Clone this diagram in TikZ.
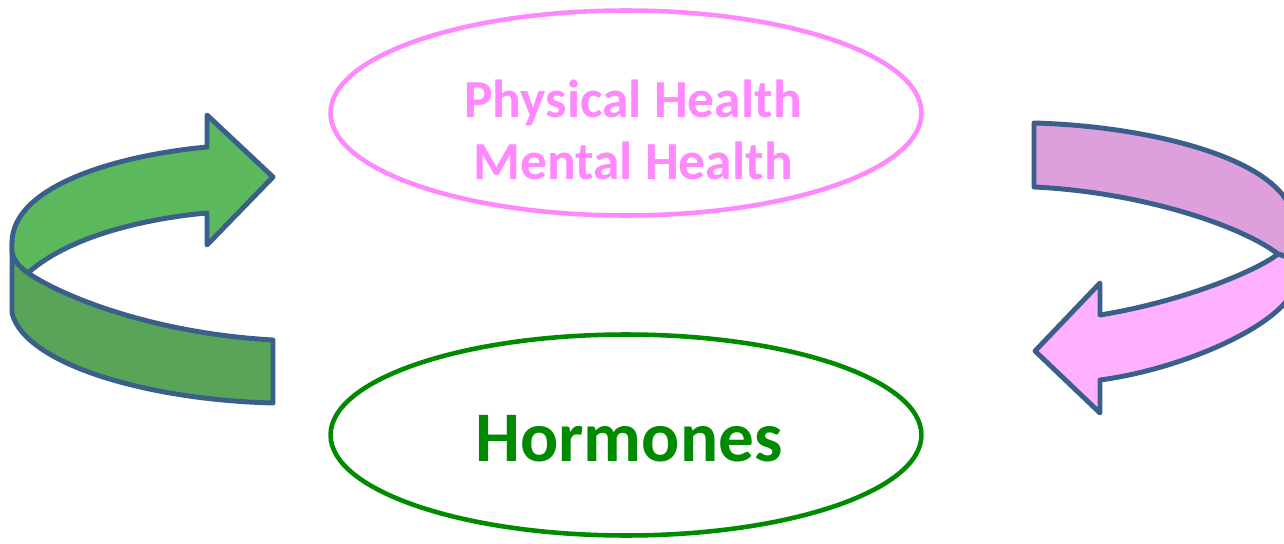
\documentclass[tikz,border=0pt]{standalone}
\usepackage{fontspec}
\setmainfont{Carlito}
\usetikzlibrary{shapes.geometric}

\definecolor{healthpink}{RGB}{255,136,255}
\definecolor{hormgreen}{RGB}{0,138,0}
\definecolor{ribbonline}{RGB}{58,95,139}
\definecolor{greenfront}{RGB}{92,184,92}
\definecolor{greenback}{RGB}{90,164,90}
\definecolor{pinkback}{RGB}{221,160,221}
\definecolor{pinkfront}{RGB}{255,176,255}

\begin{document}
\begin{tikzpicture}[
    x=0.02cm, y=-0.02cm,
    ribbon/.style     = {draw=ribbonline, line width=2.8pt, line join=round, line cap=round},
    blob/.style       = {ellipse, line width=2.6pt, inner sep=0pt,
                         minimum width=11.82cm},
    health-blob/.style = {blob, draw=healthpink, minimum height=4.1cm},
    horm-blob/.style  = {blob, draw=hormgreen, minimum height=4.02cm},
    health-lbl/.style = {font=\fontsize{30.5}{35}\selectfont\bfseries,
                         text=healthpink, align=center},
    horm-lbl/.style   = {font=\fontsize{40.5}{42}\selectfont\bfseries,
                         text=hormgreen}
  ]

\useasboundingbox (0,0) rectangle (1284,544);

% =========================================================
% The two ellipses
% =========================================================
\node[health-blob] (health) at (626,113) {};
\node[health-lbl] (healthtxt) at (633,130) {Physical Health\\Mental Health};

\node[horm-blob] (hormones) at (626,435) {};
\node[horm-lbl] (hormtxt) at (629,439) {Hormones};

% =========================================================
% Left ribbon arrow (green, turning upwards)
% =========================================================
% back face (lower band)
\fill[greenback]
  (12,250) -- (12,313) .. controls (25,365) and (150,400) .. (273,403)
  -- (273,340) .. controls (150,333) and (60,295) .. (28,273)
  .. controls (18,266) and (12,258) .. cycle;
\draw[ribbon]
  (12,243) -- (12,313) .. controls (25,365) and (150,400) .. (273,403)
  -- (273,340) .. controls (150,333) and (60,295) .. (28,273);
% front face (upper band with head)
\draw[ribbon, fill=greenfront]
  (207,147) .. controls (120,155) and (12,185) .. (12,243)
  -- (12,250) .. controls (12,258) and (18,266) .. (28,273)
  .. controls (70,235) and (150,218) .. (207,213)
  -- (207,245) -- (273,177) -- (207,115) -- cycle;

% =========================================================
% Right ribbon arrow (pink, turning downwards, cut by the edge)
% =========================================================
\begin{scope}
  \clip (0,0) rectangle (1284,544);
  % back face (upper band)
  \draw[ribbon, fill=pinkback]
    (1034,123) .. controls (1150,126) and (1294,160) .. (1294,225)
    -- (1294,262) .. controls (1290,258) .. (1278,254)
    .. controls (1240,225) and (1140,192) .. (1034,187) -- cycle;
  % front face (lower band with head)
  \draw[ribbon, fill=pinkfront]
    (1278,254) .. controls (1255,272) and (1180,302) .. (1100,315)
    -- (1100,283) -- (1035,351) -- (1100,413) -- (1100,380)
    .. controls (1190,368) and (1290,320) .. (1294,285)
    -- (1294,262) .. controls (1290,258) .. (1278,254) -- cycle;
\end{scope}

\end{tikzpicture}
\end{document}
